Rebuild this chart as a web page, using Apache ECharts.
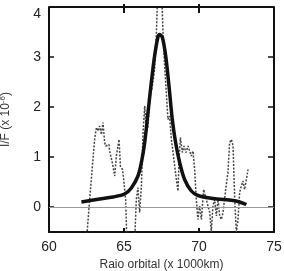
<!DOCTYPE html>
<html><head><meta charset="utf-8">
<script src="https://cdn.jsdelivr.net/npm/echarts@6/dist/echarts.min.js"></script>
<style>html,body{margin:0;padding:0;background:#fff}#c{width:284px;height:271px}</style>
</head><body><div id="c"></div>
<script>
const xTicks = [60, 65, 70, 75];
const yTicks = [0, 1, 2, 3, 4];
const fitX = [62.16, 63.38, 64.27, 65.04, 65.49, 65.93, 66.16, 66.38, 66.6, 66.82, 67.04, 67.27, 67.38, 67.56, 67.78, 68.0, 68.22, 68.44, 68.71, 69.04, 69.49, 69.93, 70.93, 72.27, 72.71, 73.16];
const fitY = [0.10, 0.16, 0.20, 0.26, 0.38, 0.62, 0.89, 1.29, 1.89, 2.49, 3.02, 3.41, 3.45, 3.39, 3.02, 2.42, 1.75, 1.29, 0.89, 0.55, 0.32, 0.23, 0.17, 0.13, 0.10, 0.05];
const obsX = [62.44, 62.71, 63.04, 63.16, 63.27, 63.38, 63.49, 63.6, 63.71, 63.78, 64.0, 64.04, 64.22, 64.38, 64.49, 64.67, 64.76, 64.9, 64.98, 65.11, 65.22, 65.67, 65.82, 65.93, 66.04, 66.16, 66.27, 66.38, 66.49, 66.6, 66.71, 66.89, 67.04, 67.16, 67.27, 67.49, 67.6, 67.71, 67.82, 67.93, 68.04, 68.16, 68.27, 68.38, 68.49, 68.6, 68.67, 68.76, 68.89, 69.0, 69.13, 69.27, 69.38, 69.49, 69.6, 69.71, 69.82, 69.93, 70.04, 70.16, 70.31, 70.44, 70.6, 70.71, 70.82, 70.93, 71.04, 71.16, 71.27, 71.38, 71.49, 71.6, 71.78, 71.93, 72.04, 72.16, 72.27, 72.38, 72.49, 72.6, 72.71, 72.82, 72.93, 73.04, 73.16, 73.27];
const obsY = [-0.9, 0.15, 1.35, 1.59, 1.52, 1.62, 1.45, 1.69, 1.29, 1.22, 1.25, 1.12, 0.89, 0.62, 1.02, 1.35, 0.82, 0.75, 0.55, 0.15, -1.0, -1.0, 0.15, 0.39, -0.11, 0.42, 1.49, 2.02, 1.49, 1.62, 2.15, 2.42, 2.75, 3.49, 4.5, 4.5, 3.49, 2.82, 2.29, 1.75, 1.82, 1.35, 1.09, 0.82, 0.55, 0.32, 0.95, 1.39, 1.09, 1.22, 1.09, 1.22, 1.12, 1.02, 1.12, 0.75, 0.15, -0.25, 0.02, -0.25, 0.35, 0.35, 0.02, -0.1, -0.5, 0.02, 0.15, -0.18, 0.15, -0.18, -0.25, -0.11, 0.35, 0.69, 1.29, 1.35, 1.22, 0.15, -0.5, -0.25, 0.29, 0.42, 0.52, 0.35, 0.55, 0.75];
const topTicks = [65, 70];

const font = 'Liberation Sans, Arial, sans-serif';
const chart = echarts.init(document.getElementById('c'));
const pair = (xs, ys) => xs.map((x, i) => [x, ys[i]]);
chart.setOption({
  animation: false,
  grid: {left: 49, right: 10, top: 7, bottom: 39, outerBoundsMode: 'none', containLabel: false},
  xAxis: [{
    type: 'value', min: 60, max: 75, interval: 5, position: 'bottom',
    axisLine: {onZero: false, lineStyle: {color: '#111', width: 2}},
    axisTick: {inside: true, length: 4, lineStyle: {color: '#111', width: 2}, customValues: topTicks},
    axisLabel: {color: '#222', fontSize: 14, fontFamily: font, margin: 8, customValues: xTicks},
    splitLine: {show: false},
    name: 'Raio orbital (x 1000km)', nameLocation: 'middle', nameGap: 21,
    nameTextStyle: {color: '#333', fontSize: 12, fontFamily: font}
  }],
  yAxis: [{
    type: 'value', min: -0.5, max: 4, position: 'left',
    axisLine: {onZero: false, lineStyle: {color: '#111', width: 2}},
    axisTick: {inside: true, length: 5, lineStyle: {color: '#111', width: 1.5}, customValues: yTicks},
    axisLabel: {color: '#222', fontSize: 14, fontFamily: font, margin: 8, customValues: yTicks, verticalAlignMaxLabel: 'top'},
    splitLine: {show: false},
    name: '{a|I/F (x 10}{s|-6}{a|)}', nameLocation: 'middle', nameGap: 36, nameRotate: 90,
    nameTextStyle: {rich: {
      a: {color: '#333', fontSize: 12, fontFamily: font},
      s: {color: '#333', fontSize: 8, fontFamily: font, verticalAlign: 'top', padding: [0, 0, 6, 0]}
    }}
  }, {
    type: 'value', min: -0.5, max: 4, position: 'right',
    axisLine: {onZero: false, lineStyle: {color: '#111', width: 2}},
    axisTick: {inside: true, length: 6, lineStyle: {color: '#111', width: 1.5}, customValues: yTicks},
    axisLabel: {show: false}, splitLine: {show: false}
  }],
  series: [{
    type: 'line', data: pair(obsX, obsY), showSymbol: false, symbol: 'none',
    lineStyle: {color: '#444', width: 1.5, type: [2, 1.5]},
    markLine: {silent: true, symbol: 'none', label: {show: false},
      data: [{yAxis: 0, lineStyle: {color: '#999', width: 1, type: 'solid'}}]}
  }, {
    type: 'line', data: pair(fitX, fitY), showSymbol: false, symbol: 'none', smooth: 0.3,
    lineStyle: {color: '#111', width: 3.5}
  }]
});

// Top frame edge and its ticks, placed through the chart's own scales.
const tl = chart.convertToPixel({xAxisIndex: 0, yAxisIndex: 0}, [60, 4]);
const tr = chart.convertToPixel({xAxisIndex: 0, yAxisIndex: 0}, [75, 4]);
const frame = [{
  type: 'line', z: 100, silent: true,
  shape: {x1: tl[0], y1: tl[1], x2: tr[0], y2: tr[1]},
  style: {stroke: '#111', lineWidth: 2}
}];
topTicks.forEach(v => {
  const p = chart.convertToPixel({xAxisIndex: 0, yAxisIndex: 0}, [v, 4]);
  frame.push({
    type: 'line', z: 100, silent: true,
    shape: {x1: p[0], y1: p[1] - 3, x2: p[0], y2: p[1] + 6},
    style: {stroke: '#111', lineWidth: 2}
  });
});
chart.setOption({graphic: frame});
</script></body></html>
